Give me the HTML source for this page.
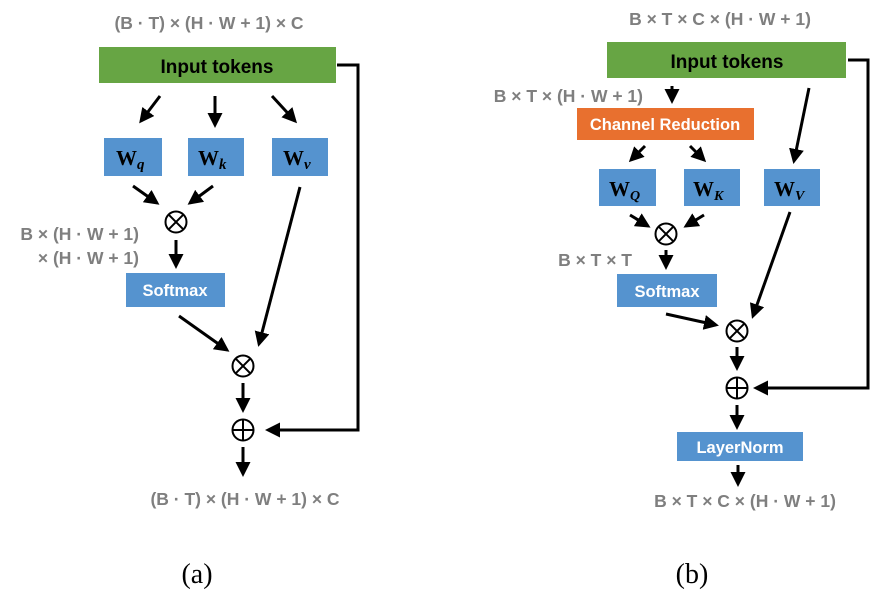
<!DOCTYPE html>
<html><head><meta charset="utf-8"><style>
body{margin:0;background:#fff;}
svg{display:block;}
.g{font-family:"Liberation Sans",sans-serif;font-weight:bold;fill:#7f7f7f;font-size:17.5px;}
.w{font-family:"Liberation Sans",sans-serif;font-weight:bold;fill:#fff;font-size:16.5px;}
.k{font-family:"Liberation Sans",sans-serif;font-weight:bold;fill:#000;font-size:19px;}
.s{font-family:"Liberation Serif",serif;font-weight:bold;fill:#000;font-size:21px;}
.l{stroke:#000;stroke-width:3;fill:none;}
</style></head><body>
<svg width="887" height="606" viewBox="0 0 887 606">
<defs><marker id="a" markerWidth="5" markerHeight="5" refX="4" refY="2.5" orient="auto" markerUnits="strokeWidth"><path d="M0,0 L5,2.5 L0,5 z" fill="#000"/></marker></defs>
<!-- (a) -->
<text class="g" x="209" y="29" text-anchor="middle">(B · T) × (H · W + 1) × C</text>
<rect x="99" y="47" width="237" height="36" fill="#67a544"/>
<text class="k" x="217" y="73" text-anchor="middle">Input tokens</text>
<polyline class="l" points="337,65 358,65 358,430 268,430" marker-end="url(#a)"/>
<line class="l" x1="160" y1="96" x2="141" y2="121" marker-end="url(#a)"/>
<line class="l" x1="215" y1="96" x2="215" y2="125" marker-end="url(#a)"/>
<line class="l" x1="272" y1="96" x2="295" y2="121" marker-end="url(#a)"/>
<rect x="104" y="138" width="58" height="38" fill="#5593cf"/>
<rect x="188" y="138" width="56" height="38" fill="#5593cf"/>
<rect x="272" y="138" width="56" height="38" fill="#5593cf"/>
<text class="s" x="116" y="165">W<tspan font-style="italic" font-size="15" dy="4">q</tspan></text>
<text class="s" x="198" y="165">W<tspan font-style="italic" font-size="15" dy="4">k</tspan></text>
<text class="s" x="283" y="165">W<tspan font-style="italic" font-size="15" dy="4">v</tspan></text>
<line class="l" x1="133" y1="186" x2="157" y2="203" marker-end="url(#a)"/>
<line class="l" x1="213" y1="186" x2="190" y2="203" marker-end="url(#a)"/>
<circle cx="176" cy="222" r="10.5" fill="none" stroke="#000" stroke-width="2"/>
<path d="M168.6,214.6 L183.4,229.4 M183.4,214.6 L168.6,229.4" stroke="#000" stroke-width="2"/>
<line class="l" x1="176" y1="240" x2="176" y2="266" marker-end="url(#a)"/>
<text class="g" x="139" y="240" text-anchor="end">B × (H · W + 1)</text>
<text class="g" x="139" y="264" text-anchor="end">× (H · W + 1)</text>
<rect x="126" y="273" width="99" height="34" fill="#5593cf"/>
<text class="w" x="175" y="296" text-anchor="middle">Softmax</text>
<line class="l" x1="300" y1="187" x2="259" y2="344" marker-end="url(#a)"/>
<line class="l" x1="179" y1="316" x2="227" y2="350" marker-end="url(#a)"/>
<circle cx="243" cy="366" r="10.5" fill="none" stroke="#000" stroke-width="2"/>
<path d="M235.6,358.6 L250.4,373.4 M250.4,358.6 L235.6,373.4" stroke="#000" stroke-width="2"/>
<line class="l" x1="243" y1="383" x2="243" y2="410" marker-end="url(#a)"/>
<circle cx="243" cy="430" r="10.5" fill="none" stroke="#000" stroke-width="2"/>
<path d="M232.5,430 L253.5,430 M243,419.5 L243,440.5" stroke="#000" stroke-width="2"/>
<line class="l" x1="243" y1="447" x2="243" y2="474" marker-end="url(#a)"/>
<text class="g" x="245" y="505" text-anchor="middle">(B · T) × (H · W + 1) × C</text>
<text x="197" y="583" text-anchor="middle" font-family="Liberation Serif,serif" font-size="28">(a)</text>
<!-- (b) -->
<text class="g" x="720" y="25" text-anchor="middle">B × T × C × (H · W + 1)</text>
<rect x="607" y="42" width="239" height="36" fill="#67a544"/>
<text class="k" x="727" y="68" text-anchor="middle">Input tokens</text>
<polyline class="l" points="848,60 868,60 868,388 756,388" marker-end="url(#a)"/>
<text class="g" x="643" y="102" text-anchor="end">B × T × (H · W + 1)</text>
<line class="l" x1="672" y1="86" x2="672" y2="101" marker-end="url(#a)"/>
<rect x="577" y="108" width="177" height="32" fill="#e8702f"/>
<text class="w" x="665" y="130" text-anchor="middle">Channel Reduction</text>
<line class="l" x1="645" y1="146" x2="631" y2="160" marker-end="url(#a)"/>
<line class="l" x1="690" y1="146" x2="704" y2="160" marker-end="url(#a)"/>
<line class="l" x1="809" y1="88" x2="794" y2="161" marker-end="url(#a)"/>
<rect x="599" y="169" width="57" height="37" fill="#5593cf"/>
<rect x="684" y="169" width="56" height="37" fill="#5593cf"/>
<rect x="764" y="169" width="56" height="37" fill="#5593cf"/>
<text class="s" x="609" y="196">W<tspan font-style="italic" font-size="14" dy="4">Q</tspan></text>
<text class="s" x="693" y="196">W<tspan font-style="italic" font-size="14" dy="4">K</tspan></text>
<text class="s" x="774" y="196">W<tspan font-style="italic" font-size="14" dy="4">V</tspan></text>
<line class="l" x1="630" y1="215" x2="648" y2="226" marker-end="url(#a)"/>
<line class="l" x1="704" y1="215" x2="686" y2="226" marker-end="url(#a)"/>
<circle cx="666" cy="234" r="10.5" fill="none" stroke="#000" stroke-width="2"/>
<path d="M658.6,226.6 L673.4,241.4 M673.4,226.6 L658.6,241.4" stroke="#000" stroke-width="2"/>
<line class="l" x1="666" y1="250" x2="666" y2="267" marker-end="url(#a)"/>
<text class="g" x="632" y="266" text-anchor="end">B × T × T</text>
<rect x="617" y="274" width="100" height="33" fill="#5593cf"/>
<text class="w" x="667" y="297" text-anchor="middle">Softmax</text>
<line class="l" x1="790" y1="212" x2="753" y2="316" marker-end="url(#a)"/>
<line class="l" x1="666" y1="314" x2="716" y2="325" marker-end="url(#a)"/>
<circle cx="737" cy="331" r="10.5" fill="none" stroke="#000" stroke-width="2"/>
<path d="M729.6,323.6 L744.4,338.4 M744.4,323.6 L729.6,338.4" stroke="#000" stroke-width="2"/>
<line class="l" x1="737" y1="347" x2="737" y2="368" marker-end="url(#a)"/>
<circle cx="737" cy="388" r="10.5" fill="none" stroke="#000" stroke-width="2"/>
<path d="M726.5,388 L747.5,388 M737,377.5 L737,398.5" stroke="#000" stroke-width="2"/>
<line class="l" x1="737" y1="405" x2="737" y2="427" marker-end="url(#a)"/>
<rect x="677" y="432" width="126" height="29" fill="#5593cf"/>
<text class="w" x="740" y="453" text-anchor="middle">LayerNorm</text>
<line class="l" x1="738" y1="465" x2="738" y2="484" marker-end="url(#a)"/>
<text class="g" x="745" y="507" text-anchor="middle">B × T × C × (H · W + 1)</text>
<text x="692" y="583" text-anchor="middle" font-family="Liberation Serif,serif" font-size="28">(b)</text>
</svg>
</body></html>
